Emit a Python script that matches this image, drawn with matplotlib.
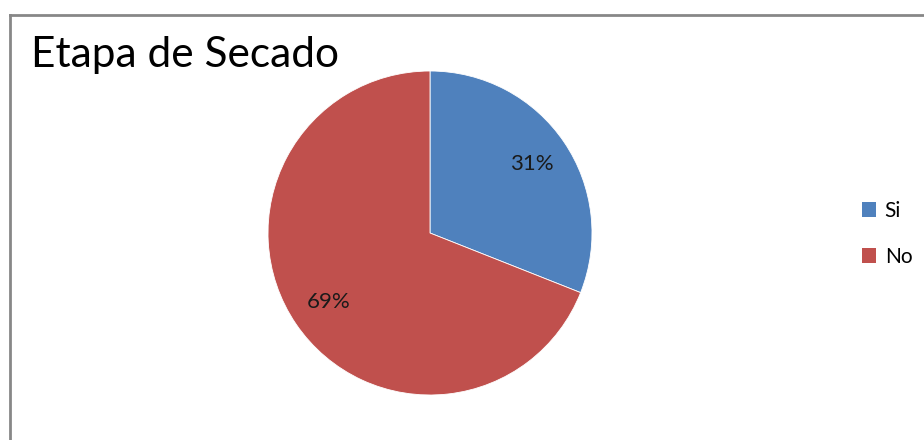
import matplotlib.pyplot as plt
from matplotlib.lines import Line2D
from matplotlib.patches import Patch

title = "Etapa de Secado"
labels = ["Si", "No"]
values = [31, 69]
colors = ["#4F81BD", "#C0504D"]

W, H = 924, 440
fig = plt.figure(figsize=(W / 100, H / 100), dpi=100)
fig.patch.set_facecolor("white")

# chart frame: left and top edges visible
fig.add_artist(Line2D([10 / W, 10 / W], [0, 1 - 15 / H], transform=fig.transFigure,
                      color="#878787", lw=2))
fig.add_artist(Line2D([10 / W, 1], [1 - 15 / H, 1 - 15 / H], transform=fig.transFigure,
                      color="#878787", lw=2))

fig.text(31 / W, 1 - 55 / H, title, fontsize=30.5, family="Lato", va="center", ha="left")

# pie area
cx, cy, r = 430, 233, 162
ax = fig.add_axes([(cx - r) / W, 1 - (cy + r) / H, 2 * r / W, 2 * r / H])
wedges, texts, autotexts = ax.pie(
    values, colors=colors, startangle=90, counterclock=False,
    autopct="%d%%", pctdistance=0.76, radius=1,
    wedgeprops=dict(edgecolor="white", linewidth=0.6),
    textprops=dict(fontsize=16, family="Lato", color="#1a1a1a"))
ax.set_xlim(-1, 1)
ax.set_ylim(-1, 1)
ax.set_aspect("equal")
ax.axis("off")

handles = [Patch(facecolor=c, edgecolor="none") for c in colors]
fig.legend(handles, labels, loc="center left", bbox_to_anchor=(843 / W, 1 - 234 / H),
           frameon=False, handlelength=0.7, handleheight=0.7, handletextpad=0.4,
           labelspacing=1.25, prop=dict(family="Lato", size=15))

fig.savefig("out.png", dpi=100)
